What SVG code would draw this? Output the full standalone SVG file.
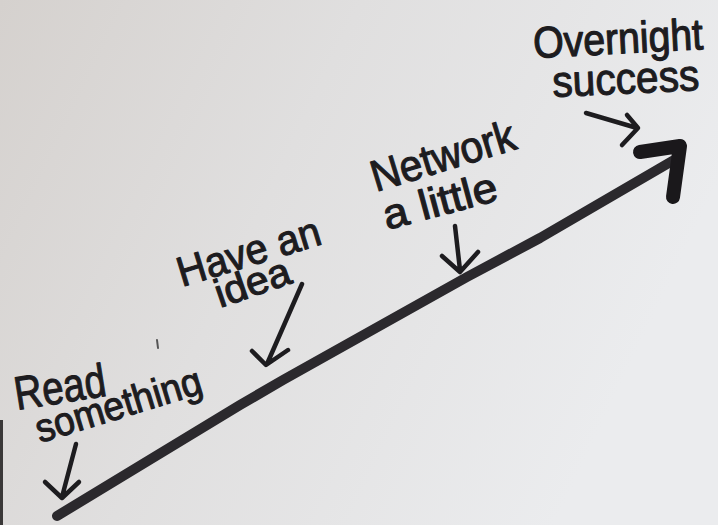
<svg xmlns="http://www.w3.org/2000/svg" width="718" height="525" viewBox="0 0 718 525">
  <defs>
    <linearGradient id="paper" x1="0" y1="0" x2="1" y2="0.35">
      <stop offset="0" stop-color="#d5d1ce"/>
      <stop offset="0.45" stop-color="#e0dfdf"/>
      <stop offset="1" stop-color="#ebecee"/>
    </linearGradient>
    <style>
      .hand { font-family: "Liberation Sans", Arial, sans-serif; fill: #1d1c1f; stroke: #1d1c1f; stroke-width: 1.1; stroke-linejoin: round; }
      .pen { fill: none; stroke: #1d1c1f; stroke-width: 4.5; stroke-linecap: round; stroke-linejoin: round; }
      .main { fill: none; stroke: #2b292d; stroke-width: 10; stroke-linecap: round; stroke-linejoin: round; }
      .head { fill: none; stroke: #1a181b; stroke-width: 14; stroke-linecap: round; stroke-linejoin: round; }
    </style>
  </defs>

  <rect x="0" y="0" width="718" height="525" fill="url(#paper)"/>
  <rect x="0" y="420" width="3" height="105" fill="#3a3838"/>
  <path d="M157,340 L158,348" stroke="#555" stroke-width="2" stroke-linecap="round"/>

  <g id="connectors">
    <path class="main" d="M57,516 L240,405 L283,380 L467,277 L540,238 L674,160"/>
    <polyline class="head" points="640,152 680,146 673,197"/>
    <!-- Read something pointer -->
    <path class="pen" d="M76,444 L62,497 M45,482 L62,498 L79,482"/>
    <!-- Have an idea pointer -->
    <path class="pen" d="M302,284 L267,364 M252,351 L266,365 L288,350"/>
    <!-- Network a little pointer -->
    <path class="pen" d="M455,226 L460,270 M442,256 L460,272 L478,252"/>
    <!-- Overnight success pointer -->
    <path class="pen" d="M586,113 L637,128 M627,115 L638,128 L622,145"/>
  </g>

  <g id="read-something">
    <text class="hand" x="17" y="410" font-size="47" textLength="92" lengthAdjust="spacingAndGlyphs" transform="rotate(-9 17 410)">Read</text>
    <text class="hand" x="40" y="443" font-size="40" textLength="172" lengthAdjust="spacingAndGlyphs" transform="rotate(-17 40 443)">something</text>
  </g>

  <g id="have-an-idea">
    <text class="hand" x="182" y="287" font-size="42" textLength="148" lengthAdjust="spacingAndGlyphs" transform="rotate(-17 182 287)">Have an</text>
    <text class="hand" x="220" y="308" font-size="40" textLength="78" lengthAdjust="spacingAndGlyphs" transform="rotate(-19 220 308)">idea</text>
  </g>

  <g id="network-a-little">
    <text class="hand" x="376" y="192" font-size="44" textLength="149" lengthAdjust="spacingAndGlyphs" transform="rotate(-17 376 192)">Network</text>
    <text class="hand" x="387" y="230" font-size="42" textLength="117" lengthAdjust="spacingAndGlyphs" transform="rotate(-15 387 230)">a little</text>
  </g>

  <g id="overnight-success">
    <text class="hand" x="534" y="58" font-size="40" textLength="170" lengthAdjust="spacingAndGlyphs" transform="rotate(-3 534 58) translate(534 58) scale(1 1.1) translate(-534 -58)">Overnight</text>
    <text class="hand" x="553" y="97" font-size="44" textLength="147" lengthAdjust="spacingAndGlyphs" transform="rotate(-2.7 553 97)">success</text>
  </g>
</svg>
